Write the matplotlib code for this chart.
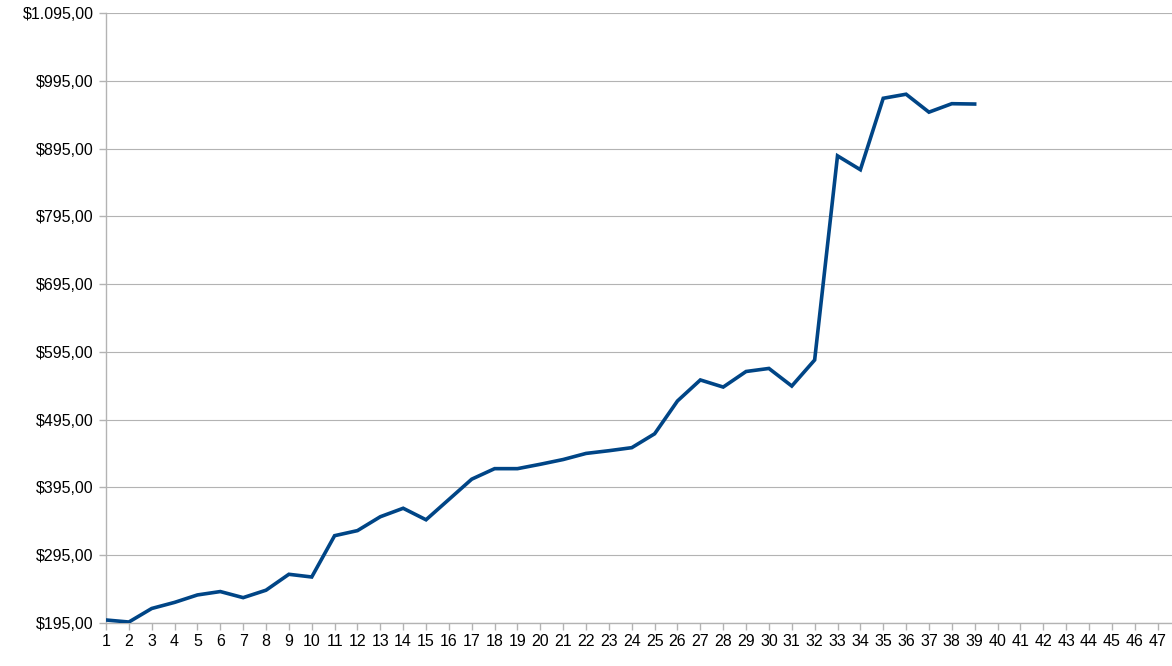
import matplotlib.pyplot as plt
from matplotlib.ticker import FuncFormatter

# categories on the x axis (the last one is cut by the image edge)
periods = list(range(1, 49))

# balance per period
balance = [199, 196, 216, 225, 236, 241, 232, 243, 266.5, 262.5,
           323.5, 331, 351.5, 364, 347, 377, 407, 422.5, 422.5, 429,
           436, 445, 449, 453.5, 474, 522.5, 553.5, 543, 566, 570.5,
           544.5, 583, 884.5, 864, 969.5, 975.5, 949, 961.5, 961]

y_ticks = [195, 295, 395, 495, 595, 695, 795, 895, 995, 1095]

GRID = "#b3b3b3"
LINE = "#004586"


def money(v, pos=None):
    s = f"{v:,.2f}"
    s = s.replace(",", "X").replace(".", ",").replace("X", ".")
    return "$" + s


plt.rcParams["font.family"] = ["Liberation Sans", "DejaVu Sans"]

W, H = 1172, 666
fig = plt.figure(figsize=(W / 100, H / 100), dpi=100)
left, right = 106 / W, 1180.4 / W
top, bottom = 1 - 13.3 / H, 1 - 622.7 / H
ax = fig.add_axes([left, bottom, right - left, top - bottom])

ax.plot(periods[:len(balance)], balance, color=LINE, linewidth=2.6,
        solid_joinstyle="miter", zorder=3)

ax.set_xlim(periods[0], periods[-1])
ax.set_ylim(y_ticks[0], y_ticks[-1])
ax.set_xticks(periods)
ax.set_xticklabels([str(p) for p in periods])
ax.set_yticks(y_ticks)
ax.yaxis.set_major_formatter(FuncFormatter(money))

ax.grid(axis="y", color=GRID, linewidth=0.8, zorder=0)
for side in ("top", "right"):
    ax.spines[side].set_visible(False)
for side in ("left", "bottom"):
    ax.spines[side].set_color(GRID)
    ax.spines[side].set_linewidth(1)

ax.tick_params(axis="both", colors=GRID, labelcolor="black",
               labelsize=11.5, length=5, width=1)
ax.tick_params(axis="x", pad=3)
ax.tick_params(axis="y", pad=4)

fig.savefig("out.png", dpi=100)
plt.close(fig)
